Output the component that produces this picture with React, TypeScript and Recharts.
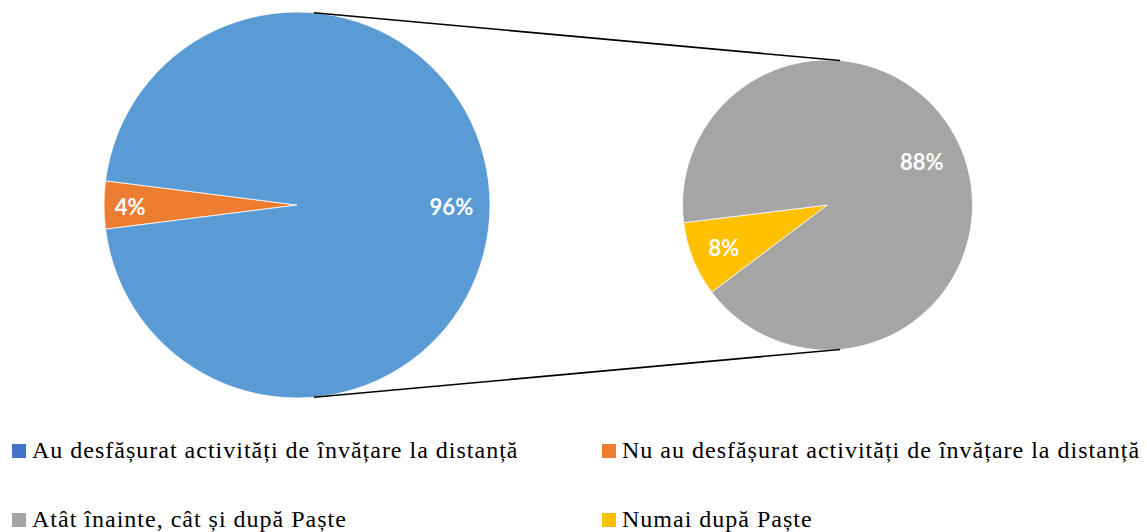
import { PieChart, Pie, Cell } from 'recharts'

const mainNames = ['Nu au desfășurat activități de învățare la distanță', 'Au desfășurat activități de învățare la distanță']
const mainValues = [4, 96]
const subNames = ['Numai după Paște', 'Atât înainte, cât și după Paște']
const subValues = [8, 88]

const legendLabels = [
  'Au desfășurat activități de învățare la distanță',
  'Nu au desfășurat activități de învățare la distanță',
  'Atât înainte, cât și după Paște',
  'Numai după Paște',
]

const MAIN_COLORS = ['#ED7D31', '#5B9BD5']
const SUB_COLORS = ['#FFC000', '#A5A5A5']
const LEGEND_COLORS = ['#4472C4', '#ED7D31', '#A5A5A5', '#FFC000']

const W = 1147
const H = 532
const MAIN = { cx: 297, cy: 205, r: 193 }
const SUB = { cx: 827.5, cy: 205, r: 145 }
const LINE_ANGLE = 85
const RAD = Math.PI / 180

const mainData = mainNames.map((name, i) => ({ name, value: mainValues[i] }))
const subData = subNames.map((name, i) => ({ name, value: subValues[i] }))

const mainStart = 180 + (mainValues[0] / (mainValues[0] + mainValues[1])) * 180
const subStart = 187

// label radius factor + angle nudge (deg) per slice
const makeLabel = (factors: number[], shifts: number[]) => (props: any) => {
  const { cx, cy, midAngle, outerRadius, index, value } = props
  const rr = outerRadius * factors[index]
  const a = (midAngle + shifts[index]) * RAD
  const x = cx + rr * Math.cos(-a)
  const y = cy + rr * Math.sin(-a)
  return (
    <text x={x} y={y + 1} fill="#fff" textAnchor="middle" dominantBaseline="central"
      style={{ fontFamily: 'Lato, "Open Sans", sans-serif', fontWeight: 700, fontSize: 22 }}>
      {`${value}%`}
    </text>
  )
}

function Overlay() {
  const pts = [LINE_ANGLE, -LINE_ANGLE].map(a => ({
    x1: MAIN.cx + MAIN.r * Math.cos(a * RAD),
    y1: MAIN.cy - MAIN.r * Math.sin(a * RAD),
    x2: SUB.cx + SUB.r * Math.cos(a * RAD),
    y2: SUB.cy - SUB.r * Math.sin(a * RAD),
  }))
  return (
    <svg width={W} height={H} style={{ position: 'absolute', left: 0, top: 0, pointerEvents: 'none' }}>
      {pts.map((p, i) => (
        <line key={i} {...p} stroke="#000" strokeWidth={1.6} />
      ))}
      {legendLabels.map((l, i) => {
        const x = i % 2 === 0 ? 12 : 602
        const base = i < 2 ? 458 : 527
        return (
          <g key={l}>
            <rect x={x} y={base - 14} width={14} height={14} fill={LEGEND_COLORS[i]} />
            <text x={x + 20} y={base} fill="#000"
              style={{ fontFamily: '"Liberation Serif", "Times New Roman", serif', fontSize: 24, letterSpacing: 1 }}>
              {l}
            </text>
          </g>
        )
      })}
    </svg>
  )
}

export default function App() {
  return (
    <div style={{ position: 'absolute', left: 0, top: 0, width: W, height: H, background: '#fff', overflow: 'hidden' }}>
      <PieChart width={W} height={H} margin={{ top: 0, right: 0, bottom: 0, left: 0 }}>
        <Pie
          data={mainData}
          dataKey="value"
          cx={MAIN.cx}
          cy={MAIN.cy}
          outerRadius={MAIN.r}
          startAngle={mainStart}
          endAngle={mainStart - 360}
          stroke="#fff"
          strokeWidth={0.75}
          labelLine={false}
          label={makeLabel([0.865, 0.8], [0, 0])}
          isAnimationActive={false}
        >
          {mainData.map((_, i) => (
            <Cell key={i} fill={MAIN_COLORS[i]} />
          ))}
        </Pie>
        <Pie
          data={subData}
          dataKey="value"
          cx={SUB.cx}
          cy={SUB.cy}
          outerRadius={SUB.r}
          startAngle={subStart}
          endAngle={subStart + 360}
          stroke="#fff"
          strokeWidth={0.75}
          labelLine={false}
          label={makeLabel([0.77, 0.72], [0, 3.5])}
          isAnimationActive={false}
        >
          {subData.map((_, i) => (
            <Cell key={i} fill={SUB_COLORS[i]} />
          ))}
        </Pie>
      </PieChart>
      <Overlay />
    </div>
  )
}
